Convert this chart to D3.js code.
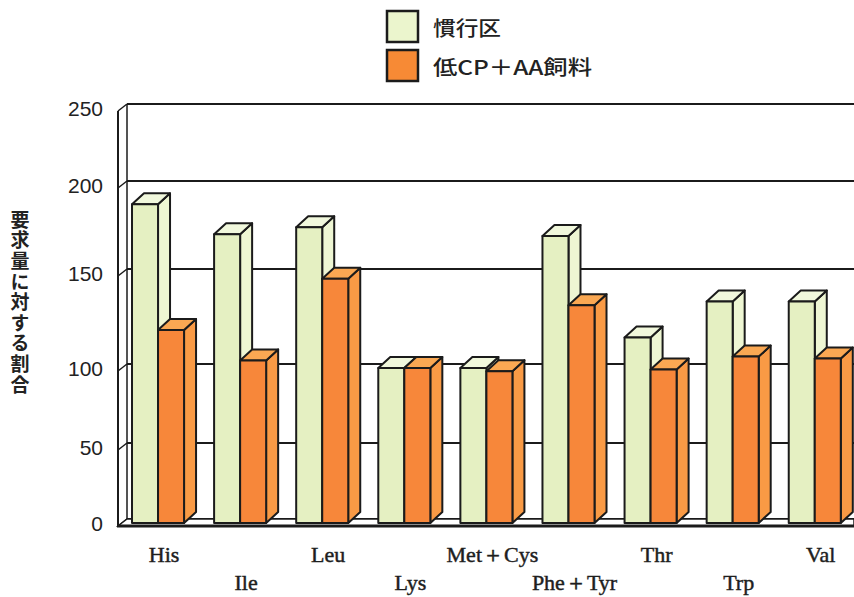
<!DOCTYPE html>
<html>
<head>
<meta charset="utf-8">
<script src="https://cdn.jsdelivr.net/npm/d3@7/dist/d3.min.js"></script>
<style>
  html, body { margin: 0; padding: 0; background: #fff; }
  svg { display: block; }
</style>
</head>
<body>
<svg id="chart" width="854" height="597"></svg>
<script>
// Amino acids and the ratio to requirement (%) for each diet
const categories = ["His", "Ile", "Leu", "Lys", "Met＋Cys", "Phe＋Tyr", "Thr", "Trp", "Val"];
const seriesNames = ["慣行区", "低CP＋AA飼料"];
const conventional = [189, 172, 176, 100, 100, 171, 116, 135, 135];
const lowCpAa = [120, 104, 147, 100, 98, 133, 99, 106, 105];
const yTicks = [0, 50, 100, 150, 200, 250];
const yTitle = "要求量に対する割合";

const faceColors = [
  { front: "#e5f0c2", side: "#eef6d3", top: "#f1f8dc" },
  { front: "#f7873a", side: "#f99a45", top: "#faa853" }
];
const legendFill = ["#ebf5cd", "#f78a35"];

const svg = d3.select("#chart");
const ink = "#1b1b1b";

// back wall scale (the print's axis is not evenly spaced)
const yBack = d3.scaleLinear()
  .domain(yTicks)
  .range([519, 443, 364, 269, 181, 104]);
// bar front plane sits slightly in front of the back wall
const yBar = d3.scaleLinear().domain(yTicks).range(yTicks.map(v => yBack(v) + 4));
// label positions on the front edge of the side wall
const yFront = d3.scaleLinear().domain(yTicks).range(yTicks.map(v => yBack(v) + 5));

const wall = { fx: 118, bx: 127, dy: 7, right: 854 };
const x = d3.scaleBand()
  .domain(categories)
  .range([123.8, 849])
  .paddingInner(0.366)
  .paddingOuter(0.1);
const barW = x.bandwidth() / 2;
const depth = { dx: 12, dy: -11 };

// back wall gridlines
svg.append("g").selectAll("line")
  .data(yTicks)
  .join("line")
  .attr("x1", wall.bx).attr("x2", wall.right)
  .attr("y1", d => yBack(d)).attr("y2", d => yBack(d))
  .attr("stroke", ink).attr("stroke-width", 2);

// side wall: edges and diagonal ticks
const side = svg.append("g").attr("stroke", ink).attr("fill", "none");
side.append("line")
  .attr("x1", wall.fx).attr("x2", wall.fx)
  .attr("y1", yBack(250) + wall.dy).attr("y2", yBack(0) + wall.dy)
  .attr("stroke-width", 2);
side.append("line")
  .attr("x1", wall.bx).attr("x2", wall.bx)
  .attr("y1", yBack(250)).attr("y2", yBack(0))
  .attr("stroke-width", 1.5);
side.selectAll("line.tick")
  .data(yTicks)
  .join("line")
  .attr("class", "tick")
  .attr("x1", wall.fx).attr("x2", wall.bx)
  .attr("y1", d => yBack(d) + wall.dy).attr("y2", d => yBack(d))
  .attr("stroke-width", 1.5);

// floor
svg.append("path")
  .attr("d", d3.line()([
    [wall.fx, yBack(0) + wall.dy], [wall.bx, yBack(0)],
    [wall.right, yBack(0)], [wall.right, yBack(0) + wall.dy]
  ]) + "Z")
  .attr("fill", "#fff").attr("stroke", ink).attr("stroke-width", 1.5);

// 3D bars
const barData = [];
categories.forEach((c, i) => {
  [conventional[i], lowCpAa[i]].forEach((v, s) => barData.push({ c, v, s }));
});

const bars = svg.append("g").selectAll("g.bar")
  .data(barData)
  .join("g")
  .attr("class", "bar")
  .attr("stroke", ink)
  .attr("stroke-width", 2)
  .attr("stroke-linejoin", "round");

const y0 = yBar(0);
bars.append("path")
  .attr("fill", d => faceColors[d.s].side)
  .attr("d", d => {
    const x1 = x(d.c) + d.s * barW + barW, t = yBar(d.v);
    return d3.line()([[x1, t], [x1 + depth.dx, t + depth.dy],
      [x1 + depth.dx, y0 + depth.dy], [x1, y0]]) + "Z";
  });
bars.append("path")
  .attr("fill", d => faceColors[d.s].top)
  .attr("d", d => {
    const x0 = x(d.c) + d.s * barW, t = yBar(d.v);
    return d3.line()([[x0, t], [x0 + depth.dx, t + depth.dy],
      [x0 + barW + depth.dx, t + depth.dy], [x0 + barW, t]]) + "Z";
  });
bars.append("rect")
  .attr("fill", d => faceColors[d.s].front)
  .attr("x", d => x(d.c) + d.s * barW)
  .attr("y", d => yBar(d.v))
  .attr("width", barW)
  .attr("height", d => y0 - yBar(d.v));

// front edge of the floor
svg.append("line")
  .attr("x1", wall.fx - 1).attr("x2", wall.right)
  .attr("y1", yBack(0) + wall.dy).attr("y2", yBack(0) + wall.dy)
  .attr("stroke", ink).attr("stroke-width", 3);

// y axis labels
const yAxis = svg.append("g")
  .attr("transform", `translate(${wall.fx},0)`)
  .call(d3.axisLeft(yFront).tickValues(yTicks).tickSize(0).tickPadding(15));
yAxis.select(".domain").remove();
yAxis.selectAll("text")
  .attr("font-family", "'Liberation Sans', Arial, sans-serif")
  .attr("font-size", 21)
  .attr("fill", "#222");

// x axis labels, staggered over two rows
const xAxis = svg.append("g")
  .attr("transform", `translate(6,${yBack(0) + wall.dy})`)
  .call(d3.axisBottom(x).tickSize(0).tickPadding(0));
xAxis.select(".domain").remove();
xAxis.selectAll("text")
  .attr("font-family", "'Liberation Serif', 'Times New Roman', serif")
  .attr("font-size", 22)
  .attr("fill", "#1e1e1e")
  .attr("stroke", "#1e1e1e")
  .attr("stroke-width", 0.45)
  .attr("dy", null)
  .attr("y", (d, i) => i % 2 === 0 ? 36 : 64);

// y axis title, vertical
svg.append("text")
  .attr("x", 20).attr("y", 210)
  .attr("font-family", "'Noto Sans CJK JP', sans-serif")
  .attr("font-size", 19)
  .attr("font-weight", 700)
  .attr("fill", "#222")
  .style("writing-mode", "vertical-rl")
  .attr("letter-spacing", 1.6)
  .text(yTitle);

// legend
const legend = svg.append("g").attr("transform", "translate(387,11)");
const item = legend.selectAll("g")
  .data(seriesNames)
  .join("g")
  .attr("transform", (d, i) => `translate(0,${i * 39})`);
item.append("rect")
  .attr("width", 31).attr("height", 31)
  .attr("fill", (d, i) => legendFill[i])
  .attr("stroke", ink).attr("stroke-width", 2.5);
item.append("text")
  .attr("x", 46).attr("y", 16)
  .attr("dominant-baseline", "central")
  .attr("font-family", "'Noto Sans CJK JP', sans-serif")
  .attr("font-size", 20)
  .attr("font-weight", 500)
  .attr("textLength", (d, i) => i === 0 ? 68 : 159)
  .attr("lengthAdjust", "spacingAndGlyphs")
  .attr("fill", "#222")
  .text(d => d);
</script>
</body>
</html>
